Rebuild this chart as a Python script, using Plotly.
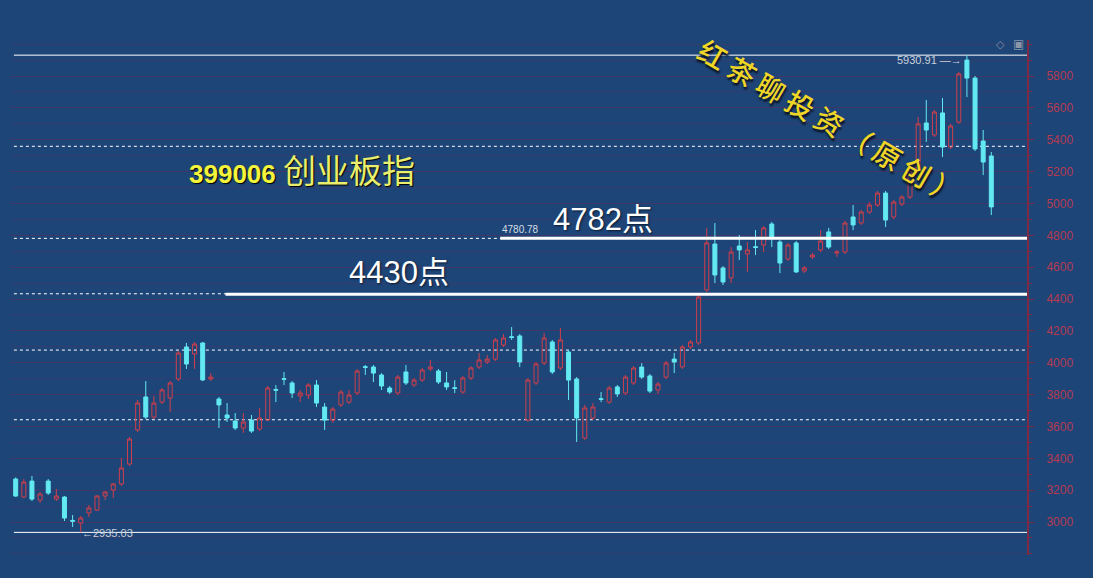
import plotly.graph_objects as go

# ---------------- data ----------------
opens = [3270, 3157, 3257, 3138, 3257, 3144, 3157, 3010, 2994, 3057,
         3075, 3163, 3201, 3239, 3364, 3578, 3785, 3659, 3753, 3778,
         3898, 4099, 4055, 4124, 3898, 3772, 3672, 3634, 3590, 3640,
         3584, 3640, 3832, 3900, 3873, 3791, 3797, 3860, 3722, 3640,
         3735, 3753, 3810, 3975, 3973, 3923, 3841, 3810, 3942, 3860,
         3891, 3961, 3948, 3873, 3843, 3816, 3904, 3973, 4004, 4023,
         4111, 4163, 4168, 3640, 3873, 3998, 4130, 3967, 4067, 3898,
         3527, 3653, 3774, 3753, 3848, 3810, 3873, 3973, 3917, 3829,
         3910, 4023, 3973, 4099, 4124, 4457, 4745, 4595, 4532, 4733,
         4683, 4728, 4739, 4871, 4758, 4651, 4752, 4576, 4664, 4708,
         4821, 4689, 4695, 4915, 4877, 4946, 4990, 5065, 4915, 4996,
         5040, 5210, 5505, 5430, 5568, 5354, 5511, 5900, 5787, 5392,
         5298]
highs = [3280, 3270, 3289, 3188, 3270, 3207, 3163, 3044, 3038, 3107,
         3170, 3195, 3245, 3402, 3534, 3766, 3885, 3791, 3841, 3885,
         4074, 4124, 4130, 4130, 3935, 3785, 3747, 3684, 3684, 3672,
         3716, 3854, 3860, 3942, 3885, 3829, 3873, 3891, 3747, 3722,
         3829, 3829, 3961, 3986, 3986, 3935, 3854, 3923, 3986, 3904,
         3967, 4017, 3961, 3942, 3891, 3917, 3979, 4061, 4048, 4155,
         4180, 4224, 4180, 3904, 4004, 4187, 4143, 4218, 4080, 3910,
         3735, 3747, 3816, 3854, 3860, 3923, 3979, 3998, 3929, 3879,
         4011, 4061, 4111, 4143, 4425, 4846, 4877, 4607, 4726, 4802,
         4758, 4833, 4858, 4883, 4770, 4752, 4764, 4607, 4689, 4833,
         4846, 4708, 4890, 4990, 4959, 5009, 5078, 5078, 5022, 5053,
         5222, 5543, 5649, 5587, 5662, 5499, 5825, 5930.91, 5800, 5461,
         5323]
lows = [3158, 3150, 3132, 3119, 3170, 3132, 3006, 2969, 2935.03, 3031,
        3070, 3138, 3151, 3226, 3352, 3565, 3647, 3647, 3741, 3691,
        3885, 3961, 3961, 3885, 3885, 3590, 3628, 3578, 3559, 3559,
        3571, 3634, 3753, 3860, 3778, 3753, 3772, 3722, 3578, 3622,
        3722, 3741, 3797, 3923, 3879, 3829, 3804, 3797, 3860, 3848,
        3879, 3948, 3866, 3829, 3810, 3804, 3891, 3961, 3992, 4011,
        4099, 4143, 3973, 3628, 3860, 3986, 3929, 3954, 3766, 3502,
        3515, 3640, 3753, 3741, 3785, 3797, 3860, 3898, 3810, 3804,
        3898, 3935, 3961, 4086, 4111, 4444, 4500, 4488, 4500, 4645,
        4570, 4676, 4695, 4726, 4563, 4639, 4563, 4563, 4651, 4695,
        4714, 4664, 4683, 4833, 4865, 4934, 4978, 4852, 4902, 4984,
        5028, 5197, 5386, 5417, 5291, 5342, 5499, 5668, 5329, 5178,
        4927]
closes = [3163, 3251, 3144, 3176, 3182, 3163, 3025, 3005, 3025, 3088,
          3163, 3188, 3239, 3339, 3521, 3747, 3659, 3747, 3829, 3873,
          4061, 3992, 4117, 3892, 3910, 3735, 3653, 3590, 3628, 3571,
          3653, 3841, 3828, 3896, 3810, 3810, 3860, 3747, 3640, 3709,
          3816, 3797, 3948, 3971, 3935, 3854, 3816, 3910, 3873, 3891,
          3954, 3973, 3879, 3848, 3839, 3904, 3967, 4017, 4023, 4143,
          4155, 4159, 4004, 3891, 3992, 4155, 3942, 4143, 3891, 3653,
          3716, 3722, 3770, 3841, 3804, 3910, 3967, 3910, 3822, 3866,
          3998, 4004, 4099, 4130, 4413, 4752, 4551, 4507, 4695, 4708,
          4708, 4724, 4846, 4789, 4626, 4739, 4570, 4595, 4676, 4764,
          4726, 4695, 4877, 4865, 4946, 4990, 5065, 4896, 5009, 5040,
          5210, 5499, 5461, 5574, 5354, 5486, 5813, 5787, 5342, 5260,
          4978]
idx = list(range(len(opens)))

HIGH_VAL = 5930.91
LOW_VAL = 2935.03
FIB_LEVELS = [5358.7, 4780.78, 4433.0, 4079.4, 3642.1]
KEY_LEVELS = [4782, 4430]
KEY_LABELS = ["4782点", "4430点"]
KEY_START = [59.6, 25.8]          # candle index where the solid line starts
Y_TICKS = list(range(3000, 5801, 200))
TITLE_CODE = "399006"
TITLE_NAME = "创业板指"
WATERMARK = "红茶聊投资（原创）"

# ---------------- styling ----------------
BG = "#1e4577"
UP = "#cf3f4b"
DN = "#62e9f2"
AXIS_RED = "#7d2a45"
TICK_RED = "#b53a52"
GRID = "rgba(105,40,90,0.26)"
X_RANGE = [-0.70, 124.39]
Y_RANGE = [2793, 6026]

fig = go.Figure()
fig.add_trace(go.Candlestick(
    x=idx, open=opens, high=highs, low=lows, close=closes,
    increasing=dict(line=dict(color=UP, width=1), fillcolor="rgba(0,0,0,0)"),
    decreasing=dict(line=dict(color=DN, width=1), fillcolor=DN),
    whiskerwidth=0, showlegend=False, hoverinfo="skip",
))

shapes = []
x_left = -0.22
for lv in FIB_LEVELS:
    shapes.append(dict(type="line", xref="x", yref="y", x0=x_left, x1=X_RANGE[1],
                       y0=lv, y1=lv, line=dict(color="white", width=1, dash="3px,3px"),
                       layer="below"))
for lv in (HIGH_VAL, LOW_VAL):
    shapes.append(dict(type="line", xref="x", yref="y", x0=x_left, x1=X_RANGE[1],
                       y0=lv, y1=lv, line=dict(color="white", width=1), layer="below"))
for lv, xs in zip(KEY_LEVELS, KEY_START):
    shapes.append(dict(type="line", xref="x", yref="y", x0=xs, x1=X_RANGE[1],
                       y0=lv, y1=lv, line=dict(color="white", width=3)))

shadow = "1px 1px 2px #0a1a30"
wm_text = "\u2009".join(WATERMARK)
annotations = [
    dict(x=KEY_START[0] + 6.2, y=KEY_LEVELS[0], xref="x", yref="y", text=KEY_LABELS[0],
         showarrow=False, xanchor="left", yanchor="bottom", yshift=-1,
         font=dict(family="Liberation Sans, Noto Sans CJK SC", size=31, color="white",
                   shadow=shadow)),
    dict(x=KEY_START[1] + 15, y=KEY_LEVELS[1], xref="x", yref="y", text=KEY_LABELS[1],
         showarrow=False, xanchor="left", yanchor="bottom", yshift=2,
         font=dict(family="Liberation Sans, Noto Sans CJK SC", size=31, color="white",
                   shadow=shadow)),
    dict(x=KEY_START[0], y=FIB_LEVELS[1], xref="x", yref="y", text=f"{FIB_LEVELS[1]:.2f}",
         showarrow=False, xanchor="left", yanchor="bottom", yshift=1,
         font=dict(family="Liberation Sans", size=10, color="#d6dde6")),
    dict(x=116.6, y=HIGH_VAL, xref="x", yref="y", text=f"{HIGH_VAL:.2f} —→",
         showarrow=False, xanchor="right", yanchor="top", yshift=3,
         font=dict(family="Liberation Sans", size=11, color="#c9d1dc")),
    dict(x=7.9, y=LOW_VAL, xref="x", yref="y", text=f"←{LOW_VAL:.2f}",
         showarrow=False, xanchor="left", yanchor="middle", yshift=-1,
         font=dict(family="Liberation Sans", size=11, color="#c9d1dc")),
    dict(x=0.174, y=0.745, xref="paper", yref="paper",
         text=f"<b>{TITLE_CODE}</b> <span style='font-size:33px;color:#e9ef6c'>{TITLE_NAME}</span>",
         showarrow=False, xanchor="left", yanchor="middle",
         font=dict(family="Liberation Sans, Noto Sans CJK SC", size=26, color="#f4f43c",
                   shadow="1px 1px 1px #000000")),
    dict(x=0.806, y=0.842, xref="paper", yref="paper",
         text=wm_text, textangle=30,
         showarrow=False, xanchor="center", yanchor="middle",
         font=dict(family="Noto Sans CJK SC", size=28, color="#efd626", weight=500,
                   shadow="2px 2px 2px #0a1020")),
    dict(x=0.974, y=1.0, xref="paper", yref="paper", text="◇",
         showarrow=False, xanchor="center", yanchor="bottom", yshift=-13,
         font=dict(family="DejaVu Sans", size=11, color="#7f90a8")),
    dict(x=0.992, y=1.0, xref="paper", yref="paper", text="▣",
         showarrow=False, xanchor="center", yanchor="bottom", yshift=-13,
         font=dict(family="DejaVu Sans", size=12, color="#8a96a8")),
]

fig.update_layout(
    width=1093, height=578, autosize=False,
    margin=dict(l=10, r=66, t=40, b=23),
    paper_bgcolor=BG, plot_bgcolor=BG,
    shapes=shapes, annotations=annotations,
    xaxis=dict(range=X_RANGE, visible=False, rangeslider=dict(visible=False),
               showgrid=False, zeroline=False),
    yaxis=dict(range=Y_RANGE, side="right", tickvals=Y_TICKS,
               showline=True, linecolor=AXIS_RED, linewidth=2,
               ticks="outside", ticklen=5, tickcolor=AXIS_RED, tickwidth=1,
               ticklabelstandoff=10,
               tickfont=dict(family="Liberation Sans", size=12, color=TICK_RED),
               showgrid=True, gridcolor=GRID, gridwidth=1,
               zeroline=False,
               minor=dict(dtick=100, tick0=3000, showgrid=True,
                          gridcolor=GRID, ticks="outside",
                          ticklen=3, tickcolor=AXIS_RED)),
    hovermode=False,
)

fig.write_html(
    "out.html",
    config={"displayModeBar": False},
    post_script="document.body.style.margin='0';document.body.style.background='" + BG + "';",
)
